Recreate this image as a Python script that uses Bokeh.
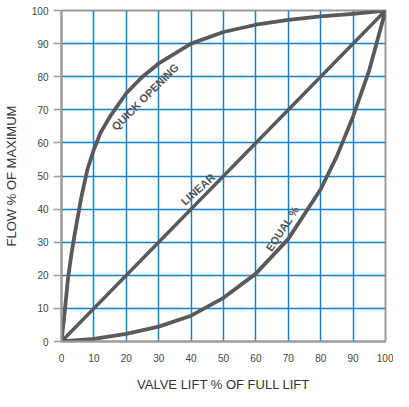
from bokeh.plotting import figure
from bokeh.models import Range1d, FixedTicker
from bokeh.core.properties import value
from bokeh.embed import file_html
from bokeh.resources import INLINE
import math

# Data
ticks = [0, 10, 20, 30, 40, 50, 60, 70, 80, 90, 100]

quick_x = [0, 1, 2, 3, 4, 6, 8, 10, 12, 15, 20, 25, 30, 40, 50, 60, 70, 80, 90, 100]
quick_y = [0, 9, 19, 26, 32, 43, 52, 58, 63, 68, 75, 80, 84, 90, 93.5, 95.7, 97.2, 98.2, 99, 100]

linear_x = [0, 100]
linear_y = [0, 100]

equal_x = [0, 10, 20, 30, 40, 50, 60, 70, 80, 85, 90, 95, 100]
equal_y = [0, 0.8, 2.3, 4.5, 7.8, 13.2, 20.5, 31, 46, 56, 68, 82, 100]

label_texts = ["QUICK OPENING", "LINEAR", "EQUAL %"]
label_x = [25.8, 42.1, 68.2]
label_y = [73.9, 46.0, 34.1]
label_deg = [45, 42, 57]

FONT = "Liberation Sans"
CURVE = "#5b5a5b"

p = figure(frame_width=324, frame_height=331, output_backend="svg", toolbar_location=None,
           x_range=Range1d(0, 100), y_range=Range1d(0, 100),
           min_border_left=61, min_border_right=8, min_border_top=10, min_border_bottom=50)

p.background_fill_color = "white"
p.border_fill_color = "white"
p.outline_line_color = "#9c9c9c"
p.outline_line_width = 2

for g in (p.xgrid, p.ygrid):
    g.ticker = FixedTicker(ticks=ticks)
    g.grid_line_color = "#1580cc"
    g.grid_line_width = 1.5
    g.grid_line_alpha = 1.0

p.xaxis.ticker = FixedTicker(ticks=ticks)
p.yaxis.ticker = FixedTicker(ticks=ticks)

for ax in (p.xaxis, p.yaxis):
    ax.axis_line_color = "#9c9c9c"
    ax.axis_line_width = 2
    ax.major_tick_line_color = "#9c9c9c"
    ax.major_tick_line_width = 1.5
    ax.minor_tick_line_color = None
    ax.major_tick_in = 0
    ax.major_label_text_font = FONT
    ax.major_label_text_font_size = "10px"
    ax.major_label_text_color = "#444444"
    ax.axis_label_text_font = FONT
    ax.axis_label_text_font_size = "13px"
    ax.axis_label_text_font_style = "normal"
    ax.axis_label_text_color = "#333333"

p.yaxis.major_tick_out = 8
p.yaxis.major_label_standoff = 5
p.yaxis.axis_label = "FLOW % OF MAXIMUM"
p.yaxis.axis_label_standoff = 10

p.xaxis.major_tick_out = 0
p.xaxis.major_label_standoff = 12
p.xaxis.axis_label = "VALVE LIFT % OF FULL LIFT"
p.xaxis.axis_label_standoff = 12

p.line(quick_x, quick_y, line_color=CURVE, line_width=3.8, line_join="round", line_cap="round")
p.line(linear_x, linear_y, line_color=CURVE, line_width=3.5, line_cap="round")
p.line(equal_x, equal_y, line_color=CURVE, line_width=3.8, line_join="round", line_cap="round")

p.text(x=label_x, y=label_y, text=label_texts,
       angle=[math.radians(a) for a in label_deg],
       text_font=value(FONT), text_font_size="11px", text_font_style="bold",
       text_color="#555555", text_align="center", text_baseline="middle")

open("out.html", "w").write(file_html(p, INLINE))
